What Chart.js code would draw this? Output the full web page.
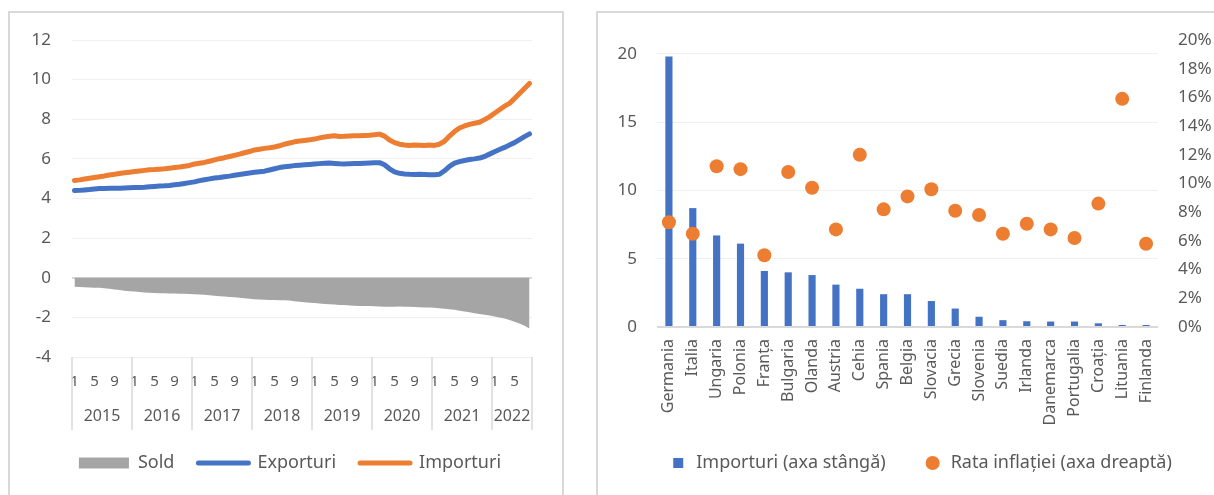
<!DOCTYPE html>
<html><head><meta charset="utf-8">
<script src="https://cdn.jsdelivr.net/npm/chart.js@4/dist/chart.umd.min.js"></script>
<style>
html,body{margin:0;padding:0;background:#fff;overflow:hidden;width:1214px;height:495px;position:relative;}
.panel{position:absolute;border:2px solid #D9D9D9;box-sizing:border-box;}
#p1{left:8px;top:11px;width:556px;height:600px;}
#p2{left:596px;top:11px;width:700px;height:600px;}
#c1{position:absolute;left:0;top:0;}
#c2{position:absolute;left:597px;top:0;}
</style></head><body>
<div class="panel" id="p1"></div>
<div class="panel" id="p2"></div>
<canvas id="c1" width="563" height="495"></canvas>
<canvas id="c2" width="617" height="495"></canvas>
<script>
// ---------- Left chart data ----------
const years = ['2015','2016','2017','2018','2019','2020','2021','2022'];
const monthsPerYear = [12,12,12,12,12,12,12,8];
const exporturi = [
 4.40,4.41,4.43,4.45,4.48,4.50,4.51,4.52,4.52,4.52,4.53,4.54,
 4.55,4.56,4.57,4.59,4.61,4.63,4.64,4.66,4.69,4.72,4.76,4.80,
 4.84,4.90,4.95,4.99,5.03,5.06,5.10,5.13,5.17,5.21,5.25,5.29,
 5.32,5.35,5.38,5.44,5.50,5.56,5.60,5.63,5.66,5.68,5.70,5.72,
 5.74,5.76,5.78,5.79,5.77,5.75,5.74,5.76,5.77,5.77,5.78,5.79,
 5.80,5.81,5.70,5.50,5.34,5.27,5.24,5.22,5.21,5.22,5.21,5.20,
 5.20,5.22,5.40,5.62,5.78,5.86,5.92,5.97,6.00,6.04,6.12,6.24,
 6.36,6.47,6.58,6.70,6.82,6.97,7.12,7.26
];
const importuri = [
 4.91,4.94,4.98,5.02,5.06,5.10,5.14,5.19,5.22,5.26,5.30,5.33,
 5.36,5.39,5.42,5.45,5.46,5.48,5.50,5.53,5.56,5.59,5.63,5.67,
 5.74,5.78,5.82,5.88,5.95,6.01,6.06,6.12,6.18,6.24,6.31,6.37,
 6.45,6.49,6.53,6.56,6.60,6.66,6.74,6.80,6.86,6.90,6.93,6.96,
 7.00,7.06,7.10,7.14,7.17,7.13,7.14,7.16,7.17,7.17,7.18,7.19,
 7.22,7.25,7.15,6.95,6.82,6.74,6.70,6.68,6.70,6.69,6.68,6.70,
 6.68,6.74,6.89,7.15,7.38,7.56,7.66,7.74,7.80,7.85,7.98,8.12,
 8.30,8.48,8.66,8.80,9.05,9.30,9.55,9.81
];
const sold = [
 -0.46,-0.47,-0.48,-0.49,-0.50,-0.51,-0.53,-0.56,-0.59,-0.62,-0.65,-0.68,
 -0.70,-0.72,-0.74,-0.76,-0.77,-0.78,-0.78,-0.79,-0.80,-0.81,-0.81,-0.82,
 -0.83,-0.84,-0.86,-0.88,-0.91,-0.93,-0.95,-0.97,-0.99,-1.01,-1.03,-1.06,
 -1.08,-1.10,-1.11,-1.12,-1.12,-1.13,-1.14,-1.15,-1.18,-1.21,-1.24,-1.26,
 -1.28,-1.30,-1.32,-1.34,-1.35,-1.37,-1.38,-1.40,-1.41,-1.42,-1.42,-1.43,
 -1.44,-1.45,-1.47,-1.47,-1.46,-1.45,-1.46,-1.47,-1.48,-1.49,-1.50,-1.50,
 -1.52,-1.54,-1.56,-1.59,-1.62,-1.66,-1.70,-1.74,-1.79,-1.83,-1.87,-1.91,
 -1.95,-2.00,-2.06,-2.13,-2.22,-2.31,-2.42,-2.56
];

// ---------- Right chart data ----------
const countries = ['Germania','Italia','Ungaria','Polonia','Franța','Bulgaria','Olanda','Austria','Cehia','Spania','Belgia','Slovacia','Grecia','Slovenia','Suedia','Irlanda','Danemarca','Portugalia','Croația','Lituania','Finlanda'];
const importuriTari = [19.8,8.7,6.7,6.1,4.1,4.0,3.8,3.1,2.8,2.4,2.4,1.9,1.35,0.75,0.5,0.42,0.4,0.4,0.27,0.15,0.15];
const inflatie = [7.3,6.5,11.2,11.0,5.0,10.8,9.7,6.8,12.0,8.2,9.1,9.6,8.1,7.8,6.5,7.2,6.8,6.2,8.6,15.9,5.8];

// ---------- helpers ----------
const TXT = '#595959';
const FONT = "'Noto Sans', sans-serif";
const monthLabels = [];
const yearCenters = [];
let start = 0;
monthsPerYear.forEach(n => {
  for (let m = 1; m <= n; m++) monthLabels.push(String(m));
  yearCenters.push(start + (n - 1) / 2);
  start += n;
});
const nMonths = monthLabels.length;

const yearSeparators = {
  id: 'yearSep',
  afterDraw(chart) {
    const xs = chart.scales.x, ctx = chart.ctx;
    const half = (xs.getPixelForValue(1) - xs.getPixelForValue(0)) / 2;
    const bounds = [xs.getPixelForValue(0) - half];
    let idx = 0;
    monthsPerYear.forEach(n => { idx += n; bounds.push(xs.getPixelForValue(idx - 1) + half); });
    ctx.save();
    ctx.strokeStyle = '#D9D9D9';
    ctx.lineWidth = 1.5;
    bounds.forEach(x => {
      ctx.beginPath();
      ctx.moveTo(x, chart.chartArea.bottom);
      ctx.lineTo(x, chart.chartArea.bottom + 73);
      ctx.stroke();
    });
    ctx.restore();
  }
};

// shifts the legend box horizontally (dx); lets it overlap the axis above by dy
function legendAdjust(dx, dy) {
  return {
    id: 'legendAdjust',
    afterInit(chart) {
      const lg = chart.legend;
      if (lg && dy) {
        const f = lg.fit;
        lg.fit = function() { f.call(this); this.height -= dy; };
      }
    },
    afterLayout(chart) {
      const lg = chart.legend;
      if (!lg) return;
      lg.left += dx; lg.right += dx;
      if (dy) { lg.top -= dy; lg.height += dy; }
    }
  };
}

new Chart(document.getElementById('c1'), {
  type: 'line',
  data: {
    labels: monthLabels,
    datasets: [
      {label:'Sold', data: sold, fill:'origin', backgroundColor:'#A5A5A5', borderColor:'#A5A5A5', borderWidth:0, pointRadius:0, tension:0},
      {label:'Exporturi', data: exporturi, fill:false, borderColor:'#4472C4', borderWidth:5, pointRadius:0, borderCapStyle:'round', borderJoinStyle:'round', tension:0},
      {label:'Importuri', data: importuri, fill:false, borderColor:'#ED7D31', borderWidth:5, pointRadius:0, borderCapStyle:'round', borderJoinStyle:'round', tension:0}
    ]
  },
  options: {
    responsive:false, animation:false, events:[],
    layout:{padding:{left:0,right:31,top:40,bottom:13}},
    scales:{
      x:{type:'category', offset:true, weight:0,
         grid:{display:false, drawTicks:false}, border:{display:false},
         ticks:{autoSkip:false, maxRotation:0, minRotation:0, padding:16, color:TXT, font:{family:FONT,size:15},
           callback:function(v,i){ return (i % 4 === 0) ? this.getLabelForValue(v) : ''; }},
         afterFit: s => { s.height = 35; }},
      x2:{type:'linear', position:'bottom', weight:1, min:-0.5, max:nMonths-0.5,
         grid:{display:false, drawTicks:false}, border:{display:false},
         afterBuildTicks: s => { s.ticks = yearCenters.map(v => ({value:v})); },
         ticks:{autoSkip:false, maxRotation:0, minRotation:0, padding:15, color:TXT, font:{family:FONT,size:16},
           callback:(v,i) => years[i]},
         afterFit: s => { s.height = 38; }},
      y:{min:-4, max:12,
         ticks:{stepSize:2, padding:21, color:TXT, font:{family:FONT,size:17}},
         grid:{drawTicks:false,
           color: c => (c.tick && c.tick.value === 0) ? '#D9D9D9' : '#EFEFEF',
           lineWidth: c => (c.tick && c.tick.value === 0) ? 2 : 1},
         border:{display:false},
         afterFit: s => { s.width = 72; }}
    },
    plugins:{
      tooltip:{enabled:false},
      legend:{position:'bottom',
        labels:{usePointStyle:true, pointStyleWidth:50, boxHeight:11, padding:24, color:TXT,
          font:{family:FONT,size:18},
          generateLabels: () => [
            {text:'Sold', fillStyle:'#A5A5A5', strokeStyle:'#A5A5A5', lineWidth:0, pointStyle:'rect', fontColor:TXT, datasetIndex:0, hidden:false},
            {text:'Exporturi', fillStyle:'#4472C4', strokeStyle:'#4472C4', lineWidth:5, lineCap:'round', pointStyle:'line', fontColor:TXT, datasetIndex:1, hidden:false},
            {text:'Importuri', fillStyle:'#ED7D31', strokeStyle:'#ED7D31', lineWidth:5, lineCap:'round', pointStyle:'line', fontColor:TXT, datasetIndex:2, hidden:false}
          ]}}
    }
  },
  plugins:[yearSeparators, legendAdjust(24, 0)]
});

new Chart(document.getElementById('c2'), {
  data: {
    labels: countries,
    datasets: [
      {type:'bar', label:'Importuri (axa stângă)', data: importuriTari, backgroundColor:'#4472C4', yAxisID:'y', barPercentage:0.3, categoryPercentage:1, order:2},
      {type:'line', label:'Rata inflației (axa dreaptă)', data: inflatie, yAxisID:'y2', showLine:false, pointRadius:7, pointBorderWidth:0, pointBackgroundColor:'#ED7D31', backgroundColor:'#ED7D31', borderColor:'#ED7D31', order:1}
    ]
  },
  options: {
    responsive:false, animation:false, events:[],
    layout:{padding:{left:0,right:0,top:40,bottom:13}},
    scales:{
      x:{grid:{display:false, drawTicks:false}, border:{display:false},
         ticks:{autoSkip:false, maxRotation:90, minRotation:90, padding:12, color:TXT, font:{family:FONT,size:16}},
         afterFit: s => { s.height = 103; }},
      y:{position:'left', min:0, max:21,
         ticks:{stepSize:5, includeBounds:false, padding:20, color:TXT, font:{family:FONT,size:17}},
         afterBuildTicks: s => { s.ticks = s.ticks.filter(t => t.value <= 20); },
         grid:{drawTicks:false,
           color: c => (c.tick && c.tick.value === 0) ? '#D9D9D9' : '#F0F0F0',
           lineWidth: c => (c.tick && c.tick.value === 0) ? 2 : 1},
         border:{display:false},
         afterFit: s => { s.width = 60; }},
      y2:{position:'right', min:0, max:20,
         ticks:{stepSize:2, padding:20, color:TXT, font:{family:FONT,size:17}, callback: v => v + '%'},
         grid:{display:false, drawTicks:false}, border:{display:false},
         afterFit: s => { s.width = 56; }}
    },
    plugins:{
      tooltip:{enabled:false},
      legend:{position:'bottom',
        labels:{usePointStyle:true, boxHeight:10, padding:38, color:TXT,
          font:{family:FONT,size:18},
          generateLabels: () => [
            {text:'Importuri (axa stângă)', fillStyle:'#4472C4', strokeStyle:'#4472C4', lineWidth:0, pointStyle:'rect', fontColor:TXT, datasetIndex:0, hidden:false},
            {text:'Rata inflației (axa dreaptă)', fillStyle:'#ED7D31', strokeStyle:'#ED7D31', lineWidth:0, pointStyle:'circle', fontColor:TXT, datasetIndex:1, hidden:false}
          ]}}
    }
  },
  plugins:[legendAdjust(15, 14)]
});
</script>
</body></html>
